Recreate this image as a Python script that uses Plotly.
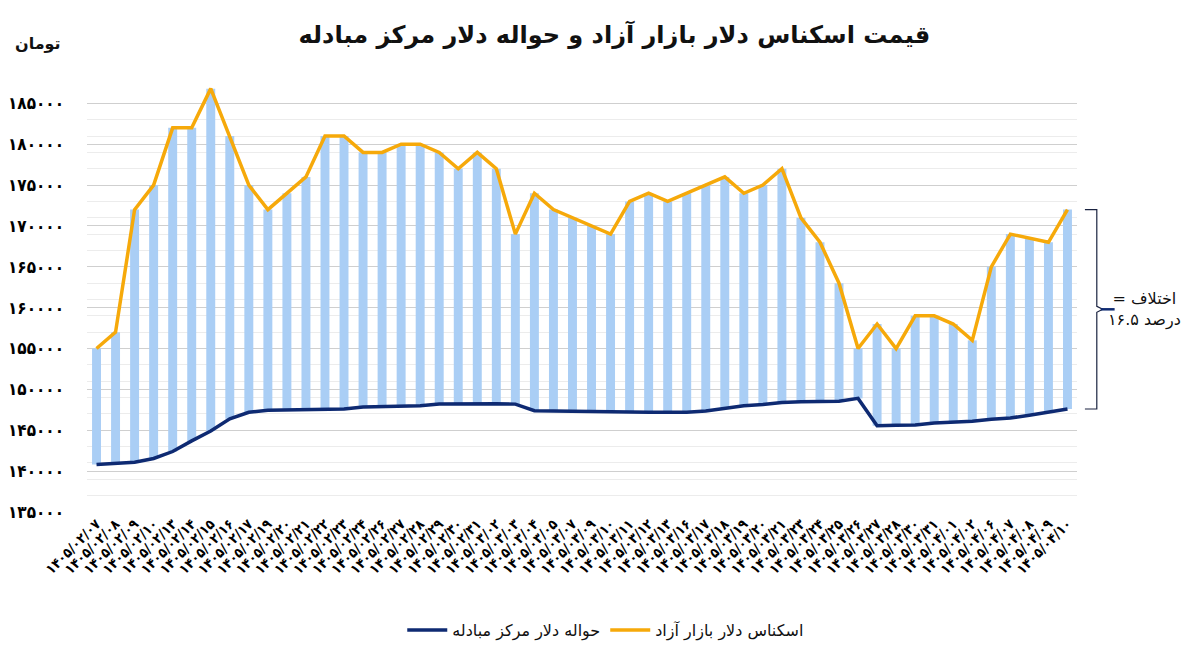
import plotly.graph_objects as go

# ---------------- data ----------------
dates = [
    "1405/02/07", "1405/02/08", "1405/02/09", "1405/02/10", "1405/02/13", "1405/02/14",
    "1405/02/15", "1405/02/16", "1405/02/17", "1405/02/19", "1405/02/20", "1405/02/21",
    "1405/02/22", "1405/02/23", "1405/02/24", "1405/02/26", "1405/02/27", "1405/02/28",
    "1405/02/29", "1405/02/30", "1405/02/31", "1405/03/02", "1405/03/03", "1405/03/04",
    "1405/03/05", "1405/03/07", "1405/03/09", "1405/03/10", "1405/03/11", "1405/03/12",
    "1405/03/13", "1405/03/16", "1405/03/17", "1405/03/18", "1405/03/19", "1405/03/20",
    "1405/03/21", "1405/03/23", "1405/03/24", "1405/03/25", "1405/03/26", "1405/03/27",
    "1405/03/28", "1405/03/30", "1405/03/31", "1405/04/01", "1405/04/02", "1405/04/06",
    "1405/04/07", "1405/04/08", "1405/04/09", "1405/04/10",
]

free_market = [
    155000, 157000, 172000, 175000, 182000, 182000, 186800, 181000, 175000, 172000,
    174000, 176000, 181000, 181000, 179000, 179000, 180000, 180000, 179000, 177000,
    179000, 177000, 169000, 174000, 172000, 171000, 170000, 169000, 173000, 174000,
    173000, 174000, 175000, 176000, 174000, 175000, 177000, 171000, 168000, 163000,
    155000, 158000, 155000, 159000, 159000, 158000, 156000, 165000, 169000, 168500,
    168000, 172000,
]

exchange_center = [
    140800, 140900, 141100, 141550, 142400, 143700, 144900, 146400, 147200, 147450,
    147500, 147500, 147550, 147600, 147850, 147900, 147950, 148000, 148200, 148250,
    148250, 148250, 148200, 147400, 147350, 147300, 147300, 147250, 147200, 147200,
    147200, 147200, 147350, 147650, 148000, 148150, 148400, 148500, 148550, 148550,
    148900, 145550, 145600, 145650, 145900, 146000, 146100, 146350, 146500, 146850,
    147200, 147600,
]

y_ticks = [135000, 140000, 145000, 150000, 155000, 160000, 165000, 170000, 175000, 180000, 185000]

title_text = "قیمت اسکناس دلار بازار آزاد و حواله دلار مرکز مبادله"
unit_text = "تومان"
name_free = "اسکناس دلار بازار آزاد"
name_center = "حواله دلار مرکز مبادله"
# logical order chosen so the browser's RTL layout shows "اختلاف =" / "۱۶.۵ درصد"
diff_text = "= اختلاف<br>درصد ۱۶.۵"

# --------------------------------------
FA = str.maketrans("0123456789", "۰۱۲۳۴۵۶۷۸۹")


def fa(s):
    return str(s).translate(FA)


labels = [fa(d) for d in dates]
x = list(range(len(labels)))
gap = [f - c for f, c in zip(free_market, exchange_center)]

FONT = "DejaVu Sans"
NUMFONT = "DejaVu Sans Condensed, DejaVu Sans"
ORANGE = "#F6A90A"
NAVY = "#0E2A72"
BAR = "#AACEF5"

fig = go.Figure()

fig.add_trace(go.Bar(
    x=x, y=gap, base=exchange_center, width=0.47,
    marker=dict(color=BAR, line=dict(width=0)),
    showlegend=False, hoverinfo="skip",
))

fig.add_trace(go.Scatter(
    x=x, y=exchange_center, mode="lines", name=name_center,
    line=dict(color=NAVY, width=3.5), legendrank=1,
))
fig.add_trace(go.Scatter(
    x=x, y=free_market, mode="lines", name=name_free,
    line=dict(color=ORANGE, width=3.5), legendrank=2,
))

# bracket showing the gap on the last day
top = free_market[-1]
bot = exchange_center[-1]
mid = (top + bot) / 2
d = (top - bot) * 0.015
x0, x1, x2 = 1.008, 1.020, 1.026
path = (f"M {x0},{top} L {x1},{top} L {x1},{mid + d} L {x2},{mid} "
        f"L {x1},{mid - d} L {x1},{bot} L {x0},{bot}")
fig.add_shape(type="path", path=path, xref="paper", yref="y",
              line=dict(color="#1a2340", width=1.2))
fig.add_shape(type="line", xref="paper", yref="y", x0=x2 - 0.002, x1=1.038,
              y0=mid, y1=mid, line=dict(color=NAVY, width=2.5))

fig.add_annotation(
    x=1.068, y=mid, xref="paper", yref="y", text=diff_text, showarrow=False,
    font=dict(family=FONT, size=16, color="#111"), align="center",
    xanchor="center", yanchor="middle",
)

fig.add_annotation(
    x=-0.049, y=1.103, xref="paper", yref="paper", text=unit_text, showarrow=False,
    font=dict(family=FONT, size=16, color="#111", weight="bold"),
    xanchor="center", yanchor="middle",
)

fig.update_layout(
    width=1200, height=658,
    paper_bgcolor="white", plot_bgcolor="white",
    margin=dict(l=87, r=123, t=87, b=145),
    title=dict(text=title_text, x=0.512, xanchor="center", y=0.947, yanchor="middle",
               font=dict(family=FONT, size=24, color="#111", weight="bold")),
    legend=dict(orientation="h", x=0.524, xanchor="center", y=-0.275, yanchor="middle",
                font=dict(family=FONT, size=16, color="#111"), itemwidth=40,
                bgcolor="rgba(0,0,0,0)"),
    bargap=0.5,
    showlegend=True,
)

fig.update_xaxes(
    type="linear", range=[-0.5, len(x) - 0.5], automargin=False,
    tickmode="array", tickvals=x, ticktext=labels, tickangle=-45,
    tickfont=dict(family=NUMFONT, size=14, color="#000", weight="bold"),
    showgrid=False, zeroline=False, showline=False, ticks="",
)

fig.update_yaxes(
    range=[135000, 187000], automargin=False,
    tickmode="array", tickvals=y_ticks, ticktext=[fa(v) for v in y_ticks],
    tickfont=dict(family=NUMFONT, size=17, color="#000", weight="bold"),
    showgrid=True, gridcolor="#cfcfcf", gridwidth=1,
    minor=dict(showgrid=True, gridcolor="#ececec", gridwidth=1, tick0=135000, dtick=2000),
    zeroline=False, showline=False, ticks="", ticklabelstandoff=22,
)

fig.write_html("out.html")
